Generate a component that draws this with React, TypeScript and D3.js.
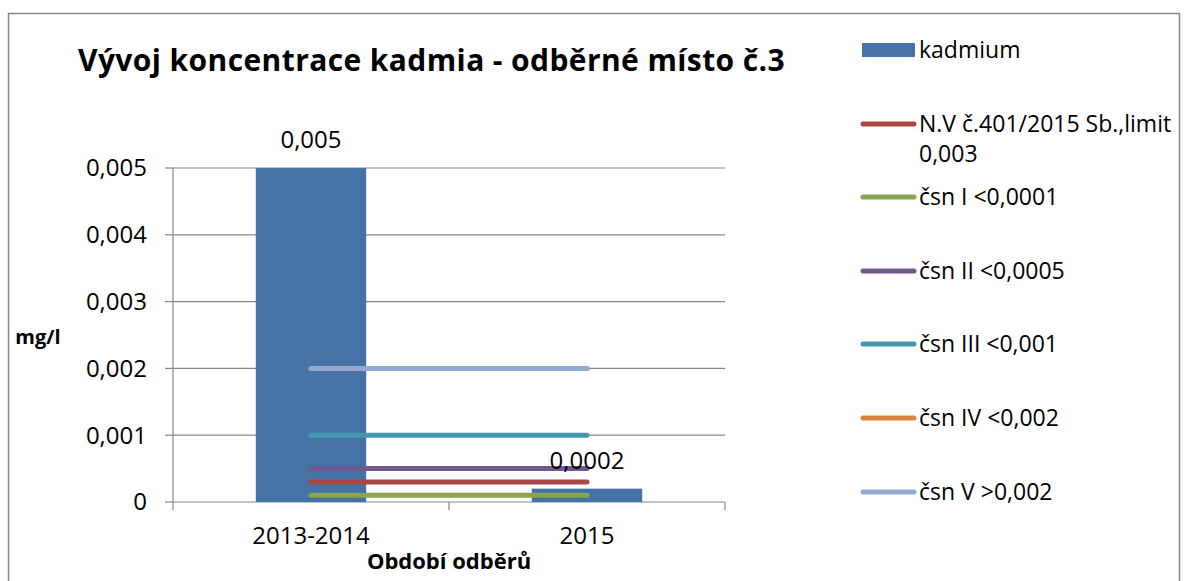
import React from "react";
import * as d3 from "d3";

// categories and values
const categories = ["2013-2014", "2015"];
const kadmium = [0.005, 0.0002];
const kadmiumLabels = ["0,005", "0,0002"];

const lineNames = [
  "N.V č.401/2015 Sb.,limit 0,003",
  "čsn I <0,0001",
  "čsn II <0,0005",
  "čsn III <0,001",
  "čsn IV <0,002",
  "čsn V >0,002",
];
const lineValues = [
  [0.0003, 0.0003],
  [0.0001, 0.0001],
  [0.0005, 0.0005],
  [0.001, 0.001],
  [0.002, 0.002],
  [0.002, 0.002],
];
const lineColors = ["#AA4643", "#89A54E", "#71588F", "#4198AF", "#DB843D", "#93A9CF"];
const yTicks = [0, 0.001, 0.002, 0.003, 0.004, 0.005];

const W = 1184;
const H = 581;
const font = "'Open Sans', sans-serif";

const fmt = (v: number) => (v === 0 ? "0" : v.toFixed(3).replace(".", ","));

export default function App() {
  // plot area
  const left = 173, right = 725, top = 168, bottom = 502;

  const x = d3.scaleBand<string>().domain(categories).range([left, right]).padding(0);
  const y = d3.scaleLinear().domain([0, 0.005]).range([bottom, top]);
  const barW = x.bandwidth() * 0.4;
  const cx = (c: string) => (x(c) as number) + x.bandwidth() / 2;

  const line = d3
    .line<number>()
    .x((_, i) => cx(categories[i]))
    .y((d) => y(d));

  // legend rows (y of the line sample)
  const legendY = [124, 197, 271, 344, 418, 492];

  return (
    <svg
      width={W}
      height={H}
      style={{ position: "absolute", left: 0, top: 0, background: "#fff" }}
      fontFamily={font}
    >
      <rect x={8.5} y={13.5} width={1171} height={600} fill="#fff" stroke="#888" strokeWidth={1.5} />

      <text x={78} y={71} fontSize={30} fontWeight="bold" letterSpacing={0.4} fill="#000">
        Vývoj koncentrace kadmia - odběrné místo č.3
      </text>

      {/* grid */}
      {yTicks.map((t) => (
        <g key={t}>
          <line x1={left} x2={right} y1={y(t)} y2={y(t)} stroke="#868686" strokeWidth={1.2} />
          <line x1={left - 8} x2={left} y1={y(t)} y2={y(t)} stroke="#868686" strokeWidth={1.2} />
          <text x={147} y={y(t)} dy="0.35em" textAnchor="end" fontSize={24} fill="#000">
            {fmt(t)}
          </text>
        </g>
      ))}
      <line x1={left} x2={left} y1={top} y2={bottom} stroke="#868686" strokeWidth={1.2} />
      {[left, left + x.bandwidth(), right].map((tx) => (
        <line key={tx} x1={tx} x2={tx} y1={bottom} y2={bottom + 8} stroke="#868686" strokeWidth={1.2} />
      ))}

      {/* bars */}
      {categories.map((c, i) => (
        <rect
          key={c}
          x={cx(c) - barW / 2}
          width={barW}
          y={y(kadmium[i])}
          height={bottom - y(kadmium[i])}
          fill="#4572A7"
        />
      ))}

      {/* lines */}
      {lineValues.map((vals, i) => (
        <path
          key={i}
          d={line(vals) || ""}
          fill="none"
          stroke={lineColors[i]}
          strokeWidth={5}
          strokeLinecap="round"
        />
      ))}

      {/* data labels */}
      {categories.map((c, i) => (
        <text key={c} x={cx(c)} y={y(kadmium[i]) - 20} textAnchor="middle" fontSize={24} fill="#000">
          {kadmiumLabels[i]}
        </text>
      ))}

      {/* category labels */}
      {categories.map((c) => (
        <text key={c} x={cx(c)} y={544} textAnchor="middle" fontSize={24} fill="#000">
          {c}
        </text>
      ))}

      <text x={(left + right) / 2} y={569} textAnchor="middle" fontSize={22} fontWeight="bold">
        Období odběrů
      </text>
      <text x={38} y={337} dy="0.35em" textAnchor="middle" fontSize={20} fontWeight="bold">
        mg/l
      </text>

      {/* legend */}
      <rect x={862} y={43} width={53} height={14} fill="#4572A7" />
      <text x={919} y={58} fontSize={23}>
        kadmium
      </text>
      {lineNames.map((n, i) => (
        <g key={n}>
          <line
            x1={863}
            x2={914}
            y1={legendY[i]}
            y2={legendY[i]}
            stroke={lineColors[i]}
            strokeWidth={5}
            strokeLinecap="round"
          />
          {i === 0 ? (
            <text x={919} y={legendY[i] + 8} fontSize={23}>
              <tspan>N.V č.401/2015 Sb.,limit</tspan>
              <tspan x={919} dy={30}>0,003</tspan>
            </text>
          ) : (
            <text x={919} y={legendY[i] + 8} fontSize={23}>
              {n}
            </text>
          )}
        </g>
      ))}
    </svg>
  );
}
